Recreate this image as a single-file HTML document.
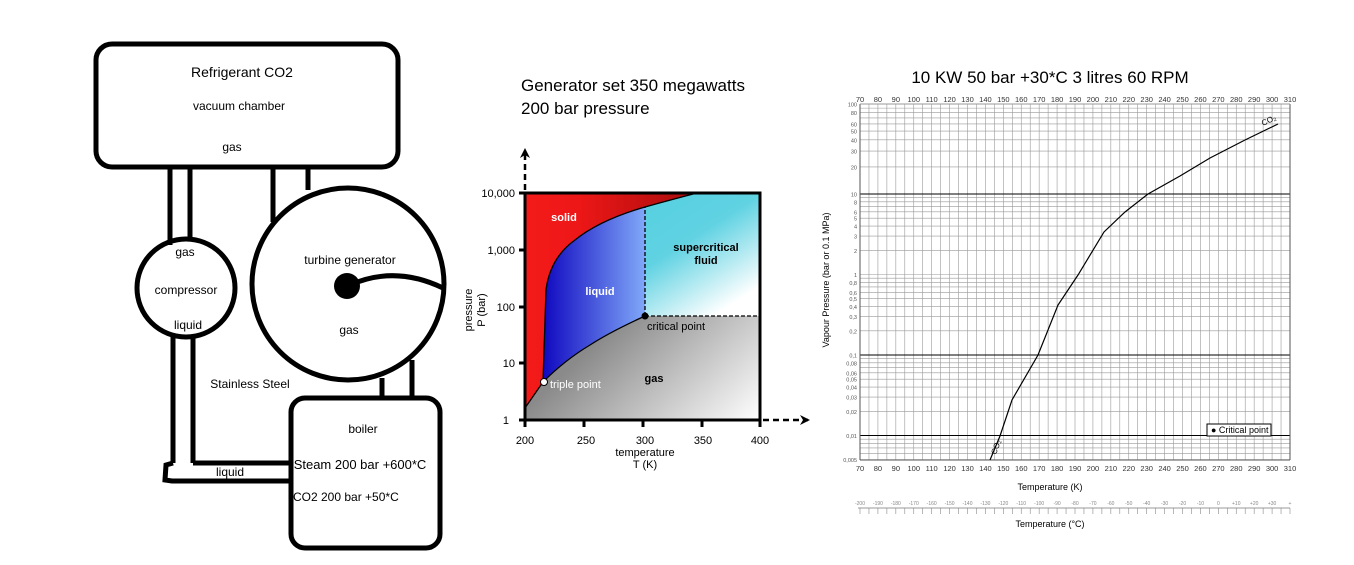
<!DOCTYPE html>
<html><head><meta charset="utf-8">
<style>
body{margin:0;background:#fff;}
svg{display:block;font-family:"Liberation Sans",sans-serif;}
</style></head><body>
<svg id="s" width="1354" height="565" viewBox="0 0 1354 565">
<defs>
<linearGradient id="gSolid" x1="0" y1="0" x2="1" y2="0"><stop offset="0" stop-color="#f41a1a"/><stop offset="0.3" stop-color="#ee1717"/><stop offset="1" stop-color="#a80c0c"/></linearGradient>
<linearGradient id="gLiq" x1="0" y1="0" x2="1" y2="0"><stop offset="0" stop-color="#1008c0"/><stop offset="1" stop-color="#80a8f8"/></linearGradient>
<linearGradient id="gSc" x1="0" y1="0" x2="0.6" y2="1"><stop offset="0" stop-color="#55d0e0"/><stop offset="0.45" stop-color="#60d2e2"/><stop offset="1" stop-color="#ffffff"/></linearGradient>
<linearGradient id="gGas" x1="0.2" y1="0.2" x2="1" y2="1"><stop offset="0" stop-color="#808080"/><stop offset="0.35" stop-color="#8a8a8a"/><stop offset="1" stop-color="#ffffff"/></linearGradient>
<marker id="ah" markerWidth="10" markerHeight="10" refX="8" refY="5" orient="auto" markerUnits="userSpaceOnUse"><path d="M0,0 L10,5 L0,10 L3,5 z" fill="#000"/></marker>
</defs>

<!-- LEFT DIAGRAM -->
<g fill="none" stroke="#000" stroke-width="5">
<rect x="96" y="44" width="302" height="123" rx="16"/>
<line x1="170" y1="167" x2="170" y2="245"/>
<line x1="190" y1="167" x2="190" y2="240"/>
<line x1="273" y1="167" x2="273" y2="222"/>
<line x1="308" y1="167" x2="308" y2="190"/>
<circle cx="186" cy="288" r="49"/>
<circle cx="348" cy="284" r="96"/>
<line x1="173" y1="337" x2="173" y2="463"/>
<line x1="193" y1="338" x2="193" y2="463"/>
<polyline points="193,463 289,463"/>
<polyline points="173,463 166,465 165,480 172,481 289,481"/>
<line x1="382" y1="378" x2="382" y2="398"/>
<line x1="412" y1="360" x2="412" y2="398"/>
<rect x="291" y="398" width="149" height="150" rx="14"/>
<path d="M350,285 Q395,265 443,288"/>
</g>
<circle cx="347" cy="286" r="13" fill="#000"/>
<g font-size="12" fill="#000" text-anchor="middle">
<text x="242" y="77" font-size="14">Refrigerant CO2</text>
<text x="239" y="110">vacuum chamber</text>
<text x="232" y="151">gas</text>
<text x="185" y="256">gas</text>
<text x="186" y="294">compressor</text>
<text x="188" y="329">liquid</text>
<text x="350" y="264">turbine generator</text>
<text x="349" y="334">gas</text>
<text x="250" y="388">Stainless Steel</text>
<text x="363" y="433">boiler</text>
<text x="230" y="476">liquid</text>
<text x="360" y="469" font-size="13">Steam 200 bar +600*C</text>
<text x="293" y="501" text-anchor="start">CO2 200 bar +50*C</text>
</g>

<!-- PHASE DIAGRAM -->
<text x="521" y="91" font-size="17">Generator set 350 megawatts</text>
<text x="521" y="114" font-size="17">200 bar pressure</text>
<rect x="525" y="193" width="235" height="227" fill="url(#gGas)"/>
<path d="M645,316 L645,207 Q670,200 697,193 L760,193 L760,316 Z" fill="url(#gSc)"/>
<path d="M525,193 L697,193 Q670,200 645,207 Q600,220 575,240 Q550,258 546,290 L543,382 L525,408 Z" fill="url(#gSolid)"/>
<path d="M543,382 L546,290 Q550,258 575,240 Q600,220 645,207 L645,316 Q610,332 590,345 Q565,360 543,382 Z" fill="url(#gLiq)"/>
<g fill="none" stroke="#000" stroke-width="1.3">
<path d="M525,408 L543,382 Q565,360 590,345 Q610,332 645,316"/>
<path d="M543,382 L546,290 Q550,258 575,240 Q600,220 645,207 Q670,200 697,193"/>
<path d="M645,316 L645,207" stroke-dasharray="4,2"/>
<path d="M645,316 L760,316" stroke-dasharray="4,2"/>
</g>
<g stroke="#000" stroke-width="3" fill="none">
<path d="M525,193 L760,193 L760,420 L525,420 Z"/>
<path d="M519,193h6M519,250h6M519,307h6M519,363h6M519,420h6M525,420v7M584,420v7M643,420v7M702,420v7M760,420v7"/>
<path d="M525,190 L525,150" stroke-dasharray="6,4" marker-end="url(#ah)" stroke-width="2.5"/>
<path d="M763,420 L808,420" stroke-dasharray="6,4" marker-end="url(#ah)" stroke-width="2.5"/>
</g>
<circle cx="645" cy="316" r="3.5" fill="#000"/>
<circle cx="544" cy="382" r="3.5" fill="#fff" stroke="#000"/>
<g font-size="11" fill="#000">
<g text-anchor="end"><text x="515" y="197">10,000</text><text x="515" y="254">1,000</text><text x="515" y="311">100</text><text x="515" y="367">10</text><text x="509" y="424">1</text></g>
<g text-anchor="middle"><text x="525" y="444">200</text><text x="586" y="444">250</text><text x="645" y="444">300</text><text x="703" y="444">350</text><text x="760" y="444">400</text>
<text x="645" y="456">temperature</text><text x="645" y="468">T (K)</text></g>
<text transform="translate(472,310) rotate(-90)" text-anchor="middle">pressure</text>
<text transform="translate(485,310) rotate(-90)" text-anchor="middle">P (bar)</text>
<text x="647" y="330">critical point</text>
<text x="550" y="388" fill="#fff">triple point</text>
<g font-weight="bold" text-anchor="middle"><text x="564" y="221" fill="#fff">solid</text><text x="600" y="295" fill="#fff">liquid</text><text x="706" y="251">supercritical</text><text x="706" y="264">fluid</text><text x="654" y="382">gas</text></g>
</g>

<!-- VAPOUR PRESSURE CHART -->
<text x="1050" y="83" font-size="17" text-anchor="middle">10 KW 50 bar +30*C 3 litres 60 RPM</text>
<g id="grid"></g>
<path d="M990,460 L1000,436 L1012,400 L1038,355 L1058,305 L1078,275 L1104,232 L1125,212 L1148,194 L1180,176 L1210,158 L1245,140 L1278,124" fill="none" stroke="#000" stroke-width="1.2"/>
<rect x="1207" y="424" width="64" height="12" fill="#fff" stroke="#000"/>
<text x="1211" y="433" font-size="9">● Critical point</text>
<text x="1263" y="126" font-size="8" transform="rotate(-25 1263 126)">CO₂</text>
<text x="996" y="455" font-size="8" transform="rotate(-70 996 455)">CO₂</text>
<text x="1050" y="490" font-size="9" text-anchor="middle">Temperature (K)</text>
<text x="1050" y="527" font-size="9" text-anchor="middle">Temperature (°C)</text>
<text transform="translate(829,280) rotate(-90)" font-size="9" text-anchor="middle">Vapour Pressure (bar or 0.1 MPa)</text>
</svg>
<script>
(function(){
var g=document.getElementById('grid'),h='';
var L=860,R=1290,T=104,B=460;
function ln(x1,y1,x2,y2,c,w){h+='<line x1="'+x1+'" y1="'+y1+'" x2="'+x2+'" y2="'+y2+'" stroke="'+c+'" stroke-width="'+w+'"/>';}
var dx=(R-L)/48;
for(var i=0;i<=48;i++){var x=L+i*dx;ln(x,T,x,B,'#999',0.6);}
function y(v){var lg=Math.log10(v);
 if(lg>=1)return 194-(lg-1)*90;return 194-(lg-1)*80.5;}
var vals=[];
[0.01,0.1,1,10].forEach(function(d){for(var k=1;k<10;k++){vals.push(d*k);}});
vals.push(100);vals.push(0.005,0.006,0.007,0.008,0.009);
vals.forEach(function(v){var yy=y(v);if(yy<=B&&yy>=T)ln(L,yy,R,yy,'#999',0.6);});
[10,0.1,0.01].forEach(function(v){ln(L,y(v),R,y(v),'#000',1);});
ln(L,T,L,B,'#555',1);ln(R,T,R,B,'#555',1);ln(L,B,R,B,'#555',1);ln(L,T,R,T,'#999',1);
for(var i=0;i<=24;i++){var x=L+i*dx*2,t=70+i*10;
 h+='<text x="'+x+'" y="'+(T-2)+'" font-size="7.5" text-anchor="middle" fill="#333">'+t+'</text>';
 h+='<text x="'+x+'" y="'+(B+11)+'" font-size="7.5" text-anchor="middle" fill="#333">'+t+'</text>';}
var labs=[[100,'100'],[80,'80'],[60,'60'],[50,'50'],[40,'40'],[30,'30'],[20,'20'],[10,'10'],[8,'8'],[6,'6'],[5,'5'],[4,'4'],[3,'3'],[2,'2'],[1,'1'],[0.8,'0,8'],[0.6,'0,6'],[0.5,'0,5'],[0.4,'0,4'],[0.3,'0,3'],[0.2,'0,2'],[0.1,'0,1'],[0.08,'0,08'],[0.06,'0,06'],[0.05,'0,05'],[0.04,'0,04'],[0.03,'0,03'],[0.02,'0,02'],[0.01,'0,01'],[0.005,'0,005']];
labs.forEach(function(a){h+='<text x="'+(L-3)+'" y="'+(y(a[0])+2.5)+'" font-size="5.5" text-anchor="end" fill="#555">'+a[1]+'</text>';});
ln(L-2,508,R,508,'#777',0.8);
for(var i=0;i<=48;i++){var x=L+i*dx;ln(x,508,x,514,'#888',0.6);}
var cl=['-200','-190','-180','-170','-160','-150','-140','-130','-120','-110','-100','-90','-80','-70','-60','-50','-40','-30','-20','-10','0','+10','+20','+30','+'];
for(var i=0;i<cl.length;i++){var x=L+i*dx*2;h+='<text x="'+x+'" y="505" font-size="5" text-anchor="middle" fill="#888">'+cl[i]+'</text>';}
g.innerHTML=h;
})();
</script>
</body></html>
